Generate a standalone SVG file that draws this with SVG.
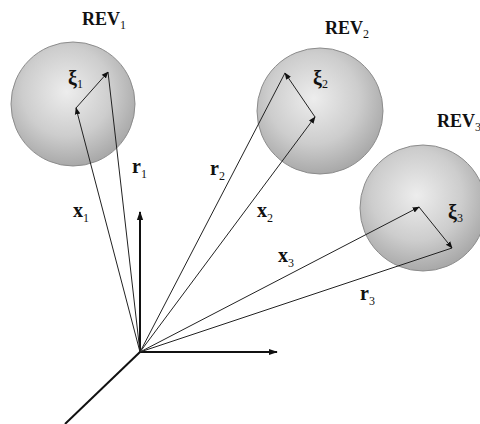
<svg xmlns="http://www.w3.org/2000/svg" width="480" height="424" viewBox="0 0 480 424">
<defs>
<radialGradient id="sph" cx="45%" cy="40%" r="60%">
<stop offset="0" stop-color="#ededed"/>
<stop offset="0.6" stop-color="#cdcdcd"/>
<stop offset="1" stop-color="#a9a9a9"/>
</radialGradient>
<marker id="ah" viewBox="0 0 10 10" refX="9" refY="5" markerWidth="7" markerHeight="7" markerUnits="userSpaceOnUse" orient="auto">
<path d="M0,1 L10,5 L0,9 Z" fill="#111"/>
</marker>
<marker id="ax" viewBox="0 0 10 10" refX="9" refY="5" markerWidth="9" markerHeight="9" markerUnits="userSpaceOnUse" orient="auto">
<path d="M0,1.5 L10,5 L0,8.5 Z" fill="#111"/>
</marker>
</defs>
<style>
.sphere{fill:url(#sph);stroke:#8c8c8c;stroke-width:1}
.vec{stroke:#222;stroke-width:1;fill:none}
.axis{stroke:#111;stroke-width:2;fill:none}
.lab{font-family:"Liberation Serif","Times New Roman",serif;font-weight:bold;font-size:20px;fill:#111}
.rev{font-family:"Liberation Serif","Times New Roman",serif;font-weight:bold;font-size:18px;fill:#111}
.sub{font-weight:normal;font-size:12px}
</style>
<g id="rev1">
<circle class="sphere" cx="73" cy="104" r="62"/>
<text class="rev" x="82" y="25">REV<tspan class="sub" dy="4">1</tspan></text>
<text class="lab" x="68" y="85">ξ<tspan class="sub" dy="3">1</tspan></text>
</g>
<g id="rev2">
<circle class="sphere" cx="320" cy="111" r="63"/>
<text class="rev" x="325" y="34">REV<tspan class="sub" dy="4">2</tspan></text>
<text class="lab" x="313" y="85">ξ<tspan class="sub" dy="3">2</tspan></text>
</g>
<g id="rev3">
<circle class="sphere" cx="423" cy="208" r="63"/>
<text class="rev" x="437" y="127">REV<tspan class="sub" dy="4">3</tspan></text>
<text class="lab" x="448" y="219">ξ<tspan class="sub" dy="3">3</tspan></text>
</g>
<g id="axes">
<line class="axis" x1="140" y1="352" x2="140" y2="212" marker-end="url(#ax)"/>
<line class="axis" x1="140" y1="352" x2="277" y2="352" marker-end="url(#ax)"/>
<line class="axis" x1="140" y1="352" x2="65" y2="424"/>
</g>
<g id="connectors">
<line class="vec" x1="140" y1="352" x2="76" y2="108" marker-end="url(#ah)"/>
<line class="vec" x1="140" y1="352" x2="108" y2="72"/>
<line class="vec" x1="76" y1="108" x2="108" y2="72" marker-end="url(#ah)"/>
<line class="vec" x1="140" y1="352" x2="315" y2="117" marker-end="url(#ah)"/>
<line class="vec" x1="140" y1="352" x2="285" y2="73"/>
<line class="vec" x1="315" y1="117" x2="285" y2="73" marker-end="url(#ah)"/>
<line class="vec" x1="140" y1="352" x2="419" y2="207" marker-end="url(#ah)"/>
<line class="vec" x1="140" y1="352" x2="452" y2="248"/>
<line class="vec" x1="419" y1="207" x2="452" y2="248" marker-end="url(#ah)"/>
</g>
<g id="labels">
<text class="lab" x="73" y="217">x<tspan class="sub" dy="5">1</tspan></text>
<text class="lab" x="132" y="173">r<tspan class="sub" dy="5">1</tspan></text>
<text class="lab" x="210" y="175">r<tspan class="sub" dy="5">2</tspan></text>
<text class="lab" x="257" y="217">x<tspan class="sub" dy="5">2</tspan></text>
<text class="lab" x="278" y="262">x<tspan class="sub" dy="5">3</tspan></text>
<text class="lab" x="360" y="300">r<tspan class="sub" dy="5">3</tspan></text>
</g>
</svg>
